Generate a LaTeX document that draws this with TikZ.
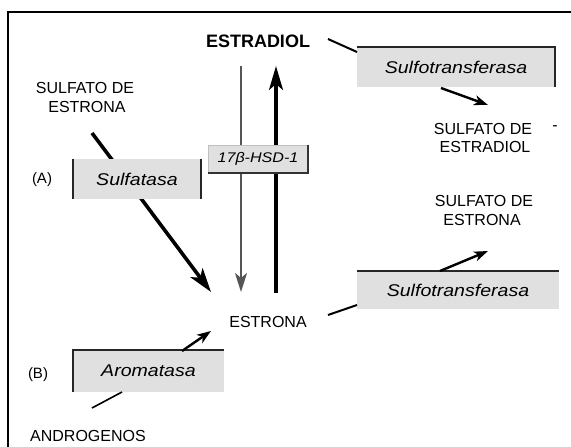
\documentclass[tikz,border=0pt]{standalone}
\usepackage{fontspec}
\setmainfont{Liberation Sans}
\newfontfamily\enzfont[FakeStretch=1.15]{Liberation Sans}
\usetikzlibrary{arrows.meta}
\definecolor{boxgray}{RGB}{224,224,224}
\definecolor{arrgray}{RGB}{85,85,85}
\tikzset{
  lbl/.style={inner sep=0pt, align=center, font=\fontsize{16}{19}\selectfont},
  enzbox/.style={fill=boxgray, inner sep=0pt, font=\enzfont\itshape\fontsize{17}{20}\selectfont},
  bord/.style={line width=1.8pt, black!85},
  bigarrow/.style={line width=3.6pt, -{Stealth[length=24pt,width=15pt,inset=6pt]}},
  midarrow/.style={line width=2.4pt, -{Stealth[length=14pt,width=10pt,inset=4pt]}},
  plainline/.style={line width=2pt},
}
\begin{document}
\begin{tikzpicture}[x=1pt,y=-1pt]
\useasboundingbox (0,0) rectangle (571,447);
% frame
\draw[line width=2.2pt] (8,447) -- (8,12) -- (571,12);

% text nodes
\node[lbl, font=\bfseries\fontsize{18}{21}\selectfont] (estradiol) at (258,41) {ESTRADIOL};
\node[lbl] (se1) at (85,88) {SULFATO DE};
\node[lbl] (se2) at (87,107) {ESTRONA};
\node[lbl] (sed1) at (483,129) {SULFATO DE};
\node[lbl] (dash) at (555,128) {-};
\node[lbl] (sed2) at (485,147) {ESTRADIOL};
\node[lbl] (ses1) at (484,201) {SULFATO DE};
\node[lbl] (ses2) at (482,220) {ESTRONA};
\node[lbl] (estrona) at (268,322) {ESTRONA};
\node[lbl] (andro) at (88,436) {ANDROGENOS};
\node[lbl, font=\fontsize{15}{17}\selectfont] (A) at (42,180) {(A)};
\node[lbl, font=\fontsize{15}{17}\selectfont] (B) at (38,375) {(B)};

% coordinates for connector ends
\coordinate (d1) at (241,66);
\coordinate (d2) at (241,292);
\coordinate (u1) at (276,293);
\coordinate (u2) at (276,66);
\coordinate (s1) at (92,133);
\coordinate (s2) at (211,292);

% arrows under boxes
\draw[line width=2.2pt, arrgray, -{Stealth[length=19pt,width=12pt,inset=5pt]}] (d1) -- (d2);
\draw[line width=3.2pt, -{Stealth[length=24pt,width=14pt,inset=6pt]}] (u1) -- (u2);
\draw[bigarrow] (s1) -- (s2);

% boxes
\node[enzbox, minimum width=198pt, minimum height=40pt] (st1) at (456,67) {Sulfotransferasa};
\draw[bord] (st1.north west) -- (st1.north east) -- (st1.south east);

\node[enzbox, minimum width=202pt, minimum height=38pt] (st2) at (458,290) {Sulfotransferasa};
\draw[bord] (st2.north west) -- (st2.north east);

\node[enzbox, minimum width=127pt, minimum height=40pt] (sulf) at (137,179) {Sulfatasa};
\draw[bord] (sulf.north west) -- (sulf.south west);
\draw[bord] (sulf.north east) -- (sulf.south east);

\node[enzbox, minimum width=151pt, minimum height=42pt] (arom) at (148.5,371) {Aromatasa};
\draw[bord] (arom.south west) -- (arom.north west) -- (arom.north east);

\node[fill=boxgray, draw=black!25, line width=0.6pt, minimum width=100pt, minimum height=28pt, inner sep=0pt,
      font=\enzfont\itshape\fontsize{14}{16}\selectfont] (hsd) at (258,159) {17β-HSD-1};
\draw[line width=1.8pt, black!80] (hsd.north east) -- (hsd.south east) -- (hsd.south west);

% other connectors
\coordinate (t1) at (441,88);
\coordinate (t2) at (488,105);
\draw[midarrow] (t1) -- (t2);
\coordinate (l1) at (440,271);
\coordinate (l2) at (488,251);
\draw[midarrow] (l1) -- (l2);
\coordinate (a1) at (182,351);
\coordinate (a2) at (211,331);
\draw[midarrow] (a1) -- (a2);

\coordinate (e1) at (328,39);
\coordinate (e2) at (357,52);
\draw[plainline] (e1) -- (e2);
\coordinate (o1) at (328,315);
\coordinate (o2) at (357,305);
\draw[plainline] (o1) -- (o2);
\coordinate (an1) at (92,408);
\coordinate (an2) at (122,392);
\draw[line width=1.6pt] (an1) -- (an2);
\end{tikzpicture}
\end{document}
